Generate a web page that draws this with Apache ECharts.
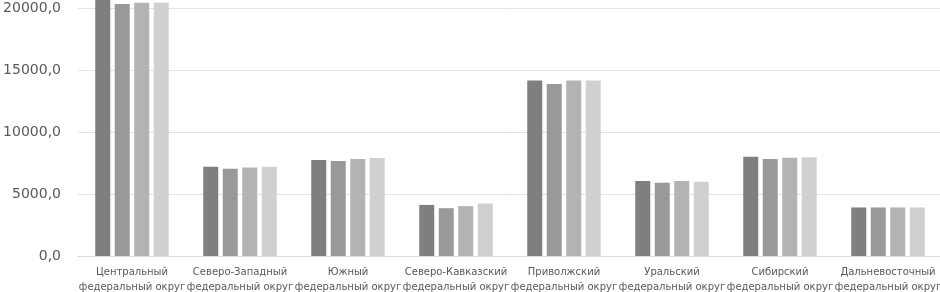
<!DOCTYPE html>
<html><head><meta charset="utf-8">
<script src="https://cdn.jsdelivr.net/npm/echarts@6/dist/echarts.min.js"></script>
<style>html,body{margin:0;padding:0;background:#fff}#c{width:940px;height:292px}</style>
</head><body><div id="c"></div>
<script>
var categories = [
  "Центральный\nфедеральный округ",
  "Северо-Западный\nфедеральный округ",
  "Южный\nфедеральный округ",
  "Северо-Кавказский\nфедеральный округ",
  "Приволжский\nфедеральный округ",
  "Уральский\nфедеральный округ",
  "Сибирский\nфедеральный округ",
  "Дальневосточный\nфедеральный округ"
];
var series1 = [20700, 7195, 7740, 4120, 14150, 6040, 8000, 3915];
var series2 = [20320, 7035, 7655, 3855, 13880, 5900, 7815, 3915];
var series3 = [20430, 7145, 7815, 4020, 14150, 6040, 7920, 3915];
var series4 = [20430, 7195, 7900, 4235, 14150, 5980, 7955, 3915];
var yTicks = { min: 0, max: 20000, interval: 5000 };
var colors = ["#7f7f7f", "#999999", "#b3b3b3", "#d0d0d0"];

var chart = echarts.init(document.getElementById('c'), null, {renderer: 'canvas'});
function mk(data, i) {
  return { type: 'bar', data: data, barWidth: 15, barGap: '30%', clip: false,
    itemStyle: { color: colors[i] }, animation: false };
}
chart.setOption({
  animation: false,
  grid: { left: 78, right: -2, top: 8, bottom: 36, containLabel: false, outerBoundsMode: 'none' },
  xAxis: { type: 'category', data: categories,
    axisLine: { show: true, lineStyle: { color: '#d9d9d9', width: 1 } },
    axisTick: { show: false },
    axisLabel: { color: '#595959', fontFamily: 'DejaVu Sans', fontSize: 10, lineHeight: 15, margin: 9, interval: 0 } },
  yAxis: { type: 'value', min: yTicks.min, max: yTicks.max, interval: yTicks.interval,
    axisLine: { show: false }, axisTick: { show: false },
    splitLine: { lineStyle: { color: '#e3e3e3', width: 1 } },
    axisLabel: { color: '#595959', fontFamily: 'DejaVu Sans', fontSize: 14, margin: 17,
      formatter: function (v) { return v.toFixed(1).replace('.', ','); } } },
  series: [mk(series1, 0), mk(series2, 1), mk(series3, 2), mk(series4, 3)]
});
</script></body></html>
